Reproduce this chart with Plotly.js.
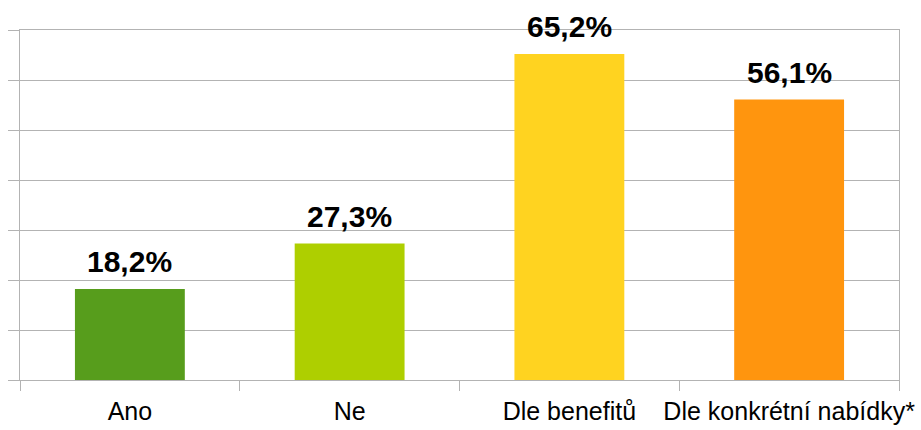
<!DOCTYPE html>
<html>
<head>
<meta charset="utf-8">
<script src="https://cdn.plot.ly/plotly-3.0.1.min.js"></script>
<style>html,body{margin:0;padding:0;background:#fff;}#chart{width:921px;height:430px;}</style>
</head>
<body>
<div id="chart"></div>
<script>
const categories = ["Ano", "Ne", "Dle benefitů", "Dle konkrétní nabídky*"];
const values = [18.2, 27.3, 65.2, 56.1];
const barColors = ["#579d1c", "#aecf00", "#ffd320", "#ff950e"];

const labels = values.map(v => v.toFixed(1).replace('.', ',') + '%');

const trace = {
  type: 'bar',
  x: categories,
  y: values,
  marker: {color: barColors},
  hoverinfo: 'none'
};

const annotations = categories.map((c, i) => ({
  x: c, y: values[i], xref: 'x', yref: 'y',
  text: '<b>' + labels[i] + '</b>', showarrow: false,
  yanchor: 'bottom', xanchor: 'center', yshift: 9,
  font: {family: 'Liberation Sans, Arial, sans-serif', size: 30, color: '#000000'}
}));

const layout = {
  width: 921, height: 430,
  margin: {l: 20, r: 22, t: 30, b: 50},
  paper_bgcolor: '#ffffff', plot_bgcolor: '#ffffff',
  bargap: 0.5,
  showlegend: false,
  font: {family: 'Liberation Sans, Arial, sans-serif', color: '#000000'},
  xaxis: {
    type: 'category',
    tickson: 'boundaries',
    tickangle: 0, automargin: false,
    ticks: 'outside', ticklen: 10, tickcolor: '#b3b3b3', tickwidth: 1,
    ticklabelstandoff: 9,
    showline: true, linecolor: '#b3b3b3', linewidth: 1, mirror: true,
    showgrid: false,
    tickfont: {size: 25, color: '#000000'}
  },
  yaxis: {
    range: [0, 70], dtick: 10,
    showticklabels: false, automargin: false,
    ticks: 'outside', ticklen: 11, tickcolor: '#b3b3b3', tickwidth: 1,
    showline: true, linecolor: '#b3b3b3', linewidth: 1, mirror: true,
    showgrid: true, gridcolor: '#b3b3b3', gridwidth: 1,
    zeroline: false, fixedrange: true
  },
  annotations: annotations
};

Plotly.newPlot('chart', [trace], layout, {displayModeBar: false, staticPlot: true});
</script>
</body>
</html>
